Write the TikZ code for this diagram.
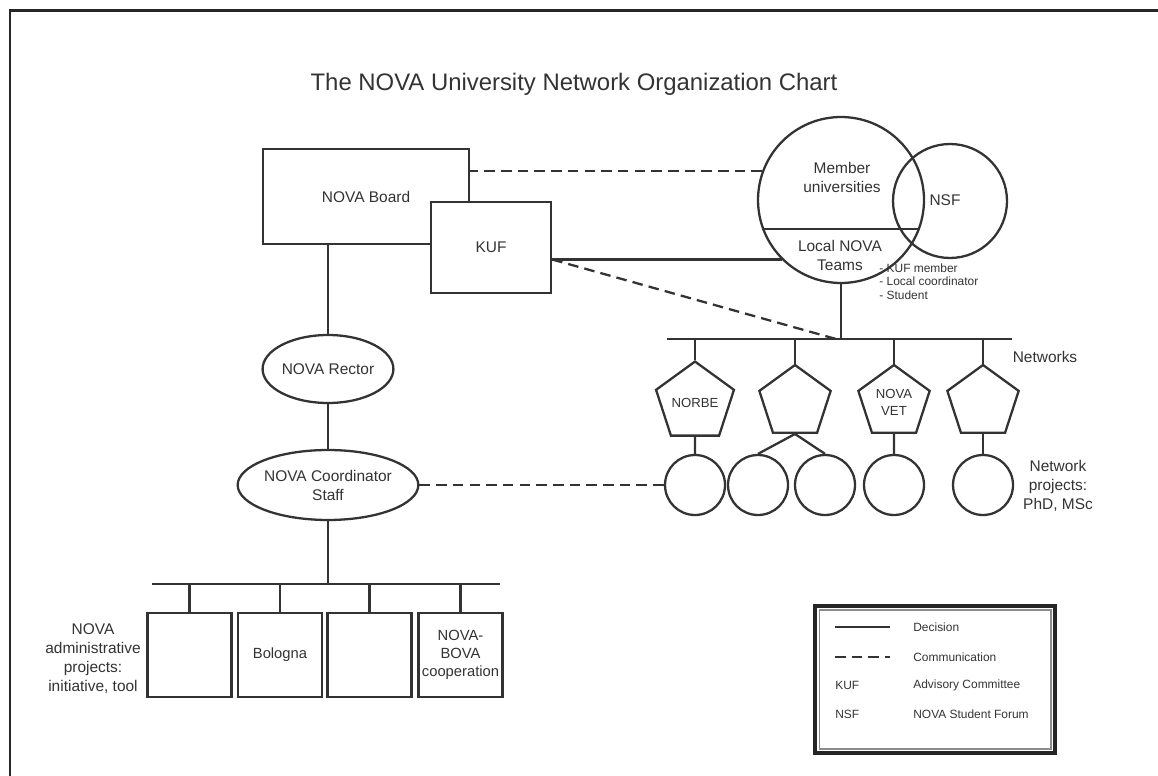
\documentclass[tikz,border=0pt]{standalone}
\usepackage{fontspec}
\setmainfont{Liberation Sans}
\usepackage{tikz}
\usetikzlibrary{shapes.geometric,calc}

\begin{document}
\begin{tikzpicture}[x=0.02cm, y=-0.02cm, every node/.style={text=black!80, font=\fontsize{8.8}{10.8}\selectfont, align=center, inner sep=0pt}, box/.style={rectangle, draw=black!80, line width=1.3pt, fill=white}, abox/.style={box, minimum width=1.68cm, minimum height=1.68cm, font=\fontsize{8.4}{10.4}\selectfont}, oval/.style={ellipse, draw=black!80, line width=1.3pt}, pent/.style={regular polygon, regular polygon sides=5, draw=black!80, line width=1.3pt, minimum size=1.5cm, font=\fontsize{7.5}{9.5}\selectfont}, ring/.style={circle, draw=black!80, line width=1.3pt, minimum size=1.2cm}, small/.style={font=\fontsize{6.8}{7.9}\selectfont}, n/.style={line width=1.3pt, draw=black!80}, d/.style={line width=1.3pt, draw=black!80, dash pattern=on 6pt off 3.5pt}]
            \useasboundingbox (0,0) rectangle (1158,776);
            \draw[line width=1.7pt, black!85] (10,776) -- (10,11) -- (1158,11);
            % nodes
            \node[font=\fontsize{13.6}{16}\selectfont] (title) at (574,84) {The NOVA University Network Organization Chart};
            \node[box, minimum width=4.12cm, minimum height=1.9cm] (board) at (366,196.5) {NOVA Board};
            \node[box, minimum width=2.4cm, minimum height=1.82cm] (kuf) at (491,247.5) {KUF};
            \node[oval, minimum width=2.48cm, minimum height=1.36cm] (rector) at (328,369) {NOVA Rector};
            \node[oval, minimum width=3.36cm, minimum height=1.4cm] (coord) at (328,485) {NOVA Coordinator\\Staff};
            \node[ring, minimum size=3.32cm] (mu) at (841,200) {};
            \node[ring, minimum size=2.28cm] (nsf) at (950,201) {};
            \node (mutext) at (842,177) {Member\\universities};
            \node (lntext) at (840,255) {Local NOVA\\Teams};
            \node (nsftext) at (945,200) {NSF};
            \node[small, align=left, anchor=north west] (roles) at (879,263) {- KUF member\\- Local coordinator\\- Student};
            \coordinate (nbl) at (667,339);
            \coordinate (nbr) at (1012,339);
            \node[pent] (norbe) at (695,402.5) {NORBE};
            \node[pent] (net2) at (795,402.5) {};
            \node[pent] (novavet) at (894,402.5) {NOVA\\VET};
            \node[pent] (net4) at (983,402.5) {};
            \node[ring] (p1) at (695,485) {};
            \node[ring] (p2) at (758,485) {};
            \node[ring] (p3) at (825,485) {};
            \node[ring] (p4) at (894,485) {};
            \node[ring] (p5) at (983,485) {};
            \node (netlabel) at (1045,357) {Networks};
            \node (projlabel) at (1058,486) {Network\\projects:\\PhD, MSc};
            \coordinate (bbl) at (152,584);
            \coordinate (bbr) at (500,584);
            \node[abox] (a1) at (189.5,655) {};
            \node[abox] (a2) at (280,655) {Bologna};
            \node[abox] (a3) at (369.5,655) {};
            \node[abox] (a4) at (460.5,655) {NOVA-\\BOVA\\cooperation};
            \node (adminlabel) at (93,659) {NOVA\\administrative\\projects:\\initiative, tool};
            % legend
            \node[draw=black!85, line width=2.2pt, minimum width=4.8cm, minimum height=2.94cm] (legend) at (935,679.5) {};
            \node[draw=black!45, line width=0.6pt, minimum width=4.64cm, minimum height=2.78cm] (legendin) at (935,679.5) {};
            \coordinate (l1a) at (835,627);
            \coordinate (l1b) at (890,627);
            \coordinate (l2a) at (835,657);
            \coordinate (l2b) at (890,657);
            \node[small, anchor=west] (ldec) at (913,627) {Decision};
            \node[small, anchor=west] (lcom) at (913,657) {Communication};
            \node[small, anchor=west] (lkuf) at (835,685) {KUF};
            \node[small, anchor=west] (ladv) at (913,685) {Advisory Committee};
            \node[small, anchor=west] (lnsf) at (835,714) {NSF};
            \node[small, anchor=west] (lstud) at (913,714) {NOVA Student Forum};
            % edges
            \draw[d] (mu.160) -- (mu.160 -| board.east);
            \draw[n] (mu.225) -- (mu.225 -| kuf.east);
            \draw[d] (mu.225 -| kuf.east) -- ($(mu.south |- nbl)+(-5,0)$);
            \draw[n] (mu.200) -- (mu.340);
            \draw[n] (mu.south) -- (mu.south |- nbl);
            \draw[n] (nbl) -- (nbr);
            \foreach \p in {norbe, net2, novavet, net4}
                \draw[n] (\p.north |- nbl) -- (\p.north);
            \draw[n] (norbe.south) -- (p1.north);
            \draw[n] (net2.south) -- (p2.north);
            \draw[n] (net2.south) -- (p3.north);
            \draw[n] (novavet.south) -- (p4.north);
            \draw[n] (net4.south) -- (p5.north);
            \draw[d] (coord.east) -- (p1.west);
            \draw[n] (rector.north) -- (rector.north |- board.south);
            \draw[n] (rector) -- (coord);
            \draw[n] (coord.south) -- (coord.south |- bbl);
            \draw[n] (bbl) -- (bbr);
            \foreach \a in {a1, a2, a3, a4}
                \draw[n] (\a.north |- bbl) -- (\a.north);
            \draw[n] (l1a) -- (l1b);
            \draw[d] (l2a) -- (l2b);
        \end{tikzpicture}
\end{document}
